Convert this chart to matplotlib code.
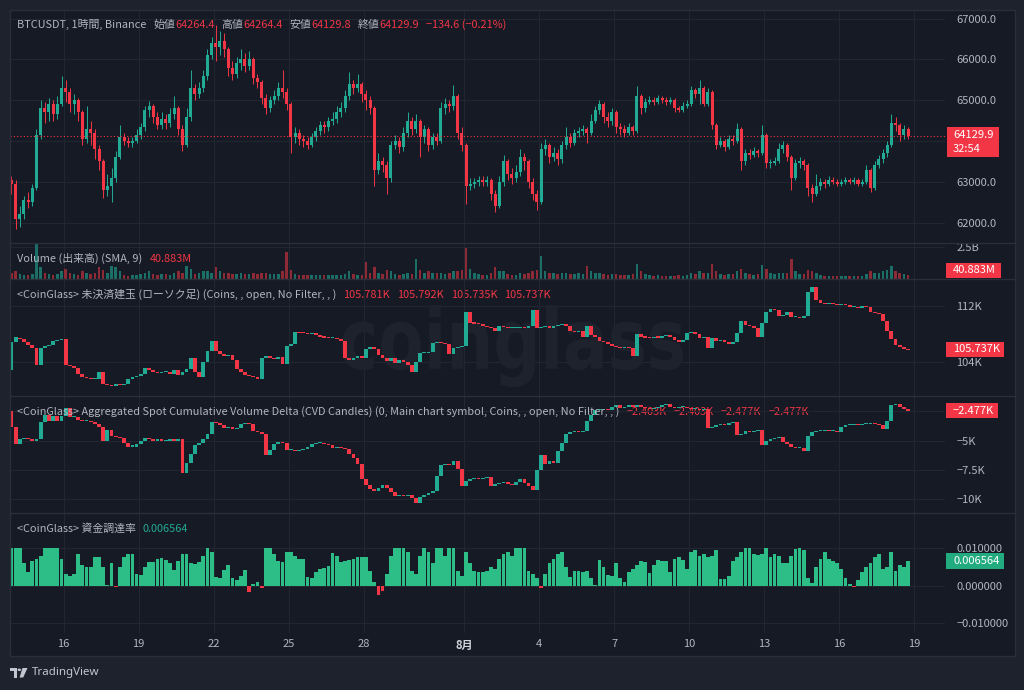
import numpy as np
import pandas as pd
import matplotlib
matplotlib.use('Agg')
import matplotlib.pyplot as plt
import matplotlib.dates as mdates
from matplotlib.patches import Rectangle, PathPatch, Circle, Polygon
from matplotlib.lines import Line2D
from matplotlib.textpath import TextPath
from matplotlib.font_manager import FontProperties
from matplotlib.transforms import Affine2D, IdentityTransform

plt.rcParams['font.family'] = ['Noto Sans CJK JP', 'DejaVu Sans']

# ---------------- data (4-hour sampling) ----------------
START = '2024-07-13 20:00'
FREQ = '4h'

price_open0 = 63050
price_close = [
    62950,
    62100, 62200, 62550, 62500, 62850, 64150,  # Jul 14
    64800, 64700, 64900, 64650, 64900, 65300,  # 15
    65200, 64900, 65000, 64700, 64050, 64300,  # 16
    64200, 63800, 63500, 62800, 62900, 63100,  # 17
    63600, 64100, 64000, 63950, 64000, 64150,  # 18
    64350, 64750, 64850, 64600, 64400, 64550,  # 19
    64450, 64650, 64800, 64300, 63900, 64600,  # 20
    65300, 65150, 65300, 65600, 66100, 66400,  # 21
    66300, 66450, 66250, 65800, 65650, 65900,  # 22
    66000, 65850, 66000, 65550, 65450, 65050,  # 23
    64800, 65000, 65100, 65300, 65200, 64900,  # 24
    64100, 64200, 64050, 64000, 63900, 64100,  # 25
    64250, 64400, 64350, 64500, 64550, 64700,  # 26
    64800, 65100, 65400, 65300, 65400, 65150,  # 27
    65000, 64800, 63300, 63500, 63400, 63100,  # 28
    63900, 64000, 63850, 64200, 64500, 64300,  # 29
    64500, 64100, 64300, 63900, 64100, 64000,  # 30
    64800, 64900, 64850, 65100, 64200, 63900,  # 31
    62900, 62950, 63000, 63050, 63000, 63050,  # Aug 1
    62700, 62400, 63000, 63500, 63200, 63100,  # 2
    63250, 63600, 63500, 63000, 62700, 62500,  # 3
    63800, 63900, 63600, 63700, 63550, 63900,  # 4
    64100, 63950, 64200, 64250, 64300, 64200,  # 5
    64500, 64750, 64900, 64600, 64500, 64700,  # 6
    64350, 64300, 64200, 64350, 64250, 65100,  # 7
    64800, 64950, 65000, 64950, 65050, 65000,  # 8
    64950, 65000, 64800, 64750, 64850, 64900,  # 9
    65250, 65150, 65300, 64900, 65200, 64400,  # 10
    63900, 64000, 63850, 64050, 64000, 64300,  # 11
    63500, 63700, 63650, 63750, 63700, 64150,  # 12
    63450, 63450, 63500, 63800, 63900, 63600,  # 13
    63100, 63450, 63500, 63400, 62850, 62700,  # 14
    62900, 63000, 62950, 63050, 63000, 62950,  # 15
    63000, 63050, 63000, 63050, 62950, 63000,  # 16
    63300, 62850, 63400, 63550, 63700, 63900,  # 17
    64450, 64400, 64150, 64300, 64129.9,       # 18
]
price_high = [
    63150,
    63050, 62400, 62650, 62750, 62950, 64300,
    65000, 64950, 65050, 65000, 65100, 65600,
    65500, 65300, 65150, 65050, 64750, 64850,
    64500, 64300, 63900, 63550, 63200, 63350,
    63750, 64400, 64200, 64100, 64100, 64300,
    64450, 64850, 64980, 64900, 64700, 64700,
    64650, 64800, 65100, 64850, 64400, 64800,
    65750, 65400, 65450, 65750, 66250, 66550,
    66850, 66700, 66650, 66300, 65950, 66050,
    66250, 66150, 66200, 66050, 65650, 65500,
    65150, 65100, 65250, 65450, 65750, 65300,
    64950, 64350, 64300, 64150, 64100, 64200,
    64350, 64500, 64500, 64600, 64700, 64850,
    64950, 65250, 65700, 65500, 65650, 65450,
    65250, 65100, 64850, 63700, 63600, 63500,
    64000, 64150, 64100, 64350, 64700, 64600,
    64650, 64550, 64400, 64350, 64200, 64200,
    64950, 65050, 65000, 65370, 65150, 64350,
    63950, 63100, 63100, 63150, 63150, 63150,
    63100, 62800, 63150, 63650, 63550, 63350,
    63400, 63800, 63700, 63550, 63100, 62800,
    63950, 64050, 63950, 63850, 63800, 64000,
    64350, 64200, 64300, 64350, 64400, 64350,
    64650, 64850, 65000, 64950, 64700, 64800,
    64750, 64450, 64400, 64450, 64400, 65350,
    65150, 65050, 65100, 65080, 65120, 65100,
    65080, 65080, 65050, 64850, 64950, 65000,
    65350, 65300, 65500, 65350, 65300, 65250,
    64450, 64100, 64050, 64150, 64150, 64450,
    64350, 63800, 63800, 63850, 63800, 64400,
    64200, 63550, 63600, 63950, 64000, 63950,
    63650, 63550, 63600, 63550, 63450, 62950,
    63200, 63100, 63080, 63150, 63120, 63080,
    63080, 63120, 63100, 63120, 63100, 63080,
    63400, 63350, 63500, 63650, 63800, 64000,
    64650, 64600, 64450, 64400, 64350,
]
price_low = [
    62700,
    61850, 61900, 62100, 62350, 62400, 62800,
    64050, 64450, 64500, 64500, 64550, 64850,
    64950, 64700, 64650, 64500, 63900, 63950,
    63900, 63550, 63300, 62600, 62650, 62500,
    63000, 63550, 63900, 63850, 63850, 63950,
    64050, 64250, 64600, 64450, 64300, 64300,
    64300, 64350, 64550, 64150, 63750, 63850,
    64500, 65000, 65050, 65200, 65500, 66000,
    65950, 66100, 66050, 65600, 65500, 65550,
    65750, 65700, 65750, 65400, 65300, 64900,
    64650, 64700, 64900, 65000, 65050, 64750,
    63700, 63950, 63900, 63850, 63800, 63850,
    64000, 64150, 64200, 64250, 64400, 64450,
    64600, 64700, 65000, 65150, 65200, 64950,
    64750, 64650, 62900, 63200, 63250, 62700,
    63000, 63800, 63700, 63750, 64100, 64150,
    64200, 63600, 63950, 63750, 63800, 63900,
    63950, 64650, 64700, 64750, 64050, 63750,
    62450, 62800, 62850, 62900, 62900, 62900,
    62550, 62250, 62350, 62900, 63050, 62950,
    63000, 63150, 63300, 62850, 62550, 62300,
    62450, 63650, 63450, 63500, 63400, 63450,
    63800, 63850, 63900, 64100, 64150, 63950,
    64150, 64450, 64650, 64450, 64350, 64400,
    64200, 64150, 64100, 64150, 64150, 64200,
    64650, 64700, 64900, 64880, 64900, 64930,
    64880, 64900, 64720, 64700, 64700, 64800,
    64850, 65050, 64900, 64850, 64850, 64300,
    63800, 63850, 63750, 63800, 63900, 63950,
    63300, 63400, 63550, 63600, 63600, 63650,
    63350, 63350, 63400, 63450, 63700, 63500,
    62800, 63050, 63350, 63300, 62650, 62500,
    62650, 62800, 62850, 62900, 62950, 62900,
    62900, 62950, 62950, 62950, 62900, 62900,
    62950, 62750, 62800, 63350, 63450, 63600,
    63850, 64250, 64000, 64050, 64050,
]
# volume in billions USDT
volume = [
    0.5,
    0.6, 0.4, 0.35, 0.3, 0.4, 2.75,
    0.9, 0.5, 0.4, 0.35, 0.4, 0.6,
    0.8, 0.5, 0.4, 0.35, 0.6, 0.5,
    0.4, 0.5, 0.9, 0.7, 0.5, 1.0,
    0.9, 0.6, 0.3, 0.25, 0.3, 0.35,
    0.4, 0.5, 0.6, 0.4, 0.35, 0.4,
    0.4, 0.35, 0.5, 0.6, 0.5, 1.0,
    0.8, 0.4, 0.5, 0.6, 0.6, 0.5,
    0.9, 0.6, 0.5, 0.5, 0.4, 0.4,
    0.5, 0.4, 0.4, 0.5, 0.4, 0.5,
    0.5, 0.4, 0.4, 0.4, 0.6, 2.1,
    0.7, 0.4, 0.3, 0.3, 0.3, 0.3,
    0.3, 0.3, 0.3, 0.35, 0.3, 0.3,
    0.35, 0.4, 0.6, 0.4, 0.35, 0.3,
    1.3, 0.5, 0.9, 0.5, 0.4, 0.7,
    0.6, 0.4, 0.35, 0.4, 0.5, 0.4,
    1.6, 0.7, 0.5, 0.6, 0.5, 0.5,
    0.5, 0.4, 0.5, 0.6, 0.6, 0.7,
    2.4, 0.8, 0.5, 0.4, 0.35, 0.3,
    0.5, 0.9, 0.6, 0.6, 0.4, 0.35,
    0.35, 0.5, 0.4, 0.5, 0.6, 0.7,
    1.8, 0.6, 0.5, 0.5, 0.4, 0.5,
    0.5, 0.4, 0.4, 0.5, 0.4, 1.0,
    0.6, 0.5, 0.5, 0.4, 0.35, 0.4,
    0.4, 0.3, 0.3, 0.35, 0.4, 1.2,
    0.6, 0.4, 0.3, 0.25, 0.3, 0.25,
    0.25, 0.2, 0.25, 0.3, 0.25, 0.3,
    0.5, 0.4, 0.6, 0.5, 0.5, 1.15,
    0.6, 0.4, 0.35, 0.4, 0.4, 0.6,
    0.8, 0.5, 0.4, 0.35, 0.4, 1.1,
    0.8, 0.5, 0.4, 0.5, 0.5, 0.5,
    1.6, 0.6, 0.4, 0.4, 0.7, 0.6,
    0.5, 0.3, 0.25, 0.25, 0.2, 0.2,
    0.2, 0.2, 0.2, 0.2, 0.2, 0.25,
    0.4, 0.6, 0.5, 0.5, 0.6, 0.7,
    1.0, 0.6, 0.5, 0.4, 0.3,
]
# open interest (K coins)
oi_open0 = 102.9
oi_close = [
    106.8,
    107.5, 107.3, 106.8, 106.4, 106.0, 103.5,
    106.0, 106.3, 106.4, 107.0, 107.2, 107.3,
    103.6, 103.4, 103.2, 102.3, 101.8, 101.7,
    101.5, 101.6, 102.6, 100.9, 100.7, 100.6,
    100.8, 100.7, 100.9, 101.5, 101.9, 102.0,
    102.3, 103.2, 102.8, 102.6, 102.4, 102.5,
    102.6, 102.3, 102.8, 102.2, 102.6, 103.0,
    104.6, 102.5, 101.8, 104.0, 105.6, 107.0,
    105.6, 105.2, 104.9, 105.0, 104.3, 103.0,
    102.5, 102.2, 102.0, 101.8, 101.6, 104.6,
    104.8, 104.6, 104.4, 104.7, 103.7, 106.3,
    106.5, 108.3, 108.2, 108.1, 108.0, 108.1,
    107.9, 107.6, 107.5, 107.4, 107.5, 107.3,
    107.0, 104.5, 104.3, 104.6, 104.8, 104.6,
    105.8, 106.2, 105.9, 105.0, 104.6, 104.2,
    104.5, 103.8, 104.3, 104.0, 103.5, 102.5,
    104.0, 105.3, 105.3, 105.4, 106.7, 106.8,
    106.7, 106.6, 105.2, 106.0, 106.1, 106.3,
    111.2, 109.6, 109.5, 109.4, 109.1, 109.0,
    108.9, 108.4, 109.2, 109.0, 108.9, 108.9,
    108.9, 109.0, 108.8, 109.2, 111.5, 108.9,
    109.0, 109.2, 108.8, 109.1, 109.3, 109.4,
    109.2, 108.4, 108.3, 108.4, 107.6, 109.1,
    107.8, 107.6, 107.0, 106.8, 106.6, 106.3,
    106.1, 106.0, 106.1, 106.0, 104.8, 108.0,
    107.6, 107.5, 107.4, 107.6, 107.5, 107.7,
    107.8, 107.6, 107.2, 106.9, 107.1, 108.2,
    108.3, 108.0, 107.4, 107.6, 106.0, 107.4,
    107.0, 107.1, 106.8, 106.5, 106.8, 108.2,
    109.9, 109.3, 109.1, 108.8, 107.6, 109.6,
    111.2, 111.6, 111.4, 110.6, 110.7, 111.2,
    110.4, 110.5, 110.3, 110.6, 114.0, 114.7,
    112.9, 112.5, 112.3, 112.4, 112.3, 112.2,
    112.3, 112.2, 111.8, 111.9, 111.7, 112.0,
    111.9, 111.1, 111.0, 110.8, 109.8, 108.5,
    107.3, 106.4, 106.1, 105.9, 105.737,
]
# aggregated spot CVD (K coins)
cvd_open0 = -2.5
cvd_close = [
    -3.8,
    -5.3, -4.9, -4.8, -4.9, -5.0, -4.9,
    -3.4, -2.8, -3.3, -2.9, -3.3, -2.9,
    -2.2, -3.0, -3.0, -3.2, -3.3, -3.3,
    -3.4, -3.6, -3.8, -5.0, -4.1, -4.6,
    -4.7, -4.8, -5.2, -5.5, -5.5, -5.3,
    -5.0, -4.8, -4.9, -5.0, -4.9, -5.0,
    -5.0, -4.9, -5.0, -4.9, -7.8, -6.9,
    -6.1, -5.4, -5.2, -4.9, -4.4, -3.4,
    -3.5, -3.7, -3.9, -3.8, -4.0, -3.9,
    -3.6, -3.5, -3.6, -4.2, -4.3, -4.4,
    -6.2, -5.8, -5.3, -5.1, -5.2, -5.8,
    -5.8, -5.9, -5.8, -5.7, -5.5, -5.3,
    -5.2, -5.2, -5.3, -5.4, -5.6, -5.5,
    -5.6, -5.7, -6.1, -6.5, -7.0, -8.3,
    -8.8, -9.1, -9.3, -9.0, -8.8, -9.0,
    -9.4, -9.7, -9.6, -9.7, -9.6, -9.9,
    -10.3, -9.8, -9.6, -9.5, -9.3, -8.0,
    -7.1, -7.0, -7.1, -6.7, -7.4, -8.9,
    -8.4, -8.3, -8.2, -8.3, -8.2, -8.1,
    -8.9, -8.7, -8.6, -8.5, -8.7, -8.8,
    -8.5, -8.3, -8.6, -8.9, -9.2, -7.5,
    -6.2, -7.0, -6.7, -6.9, -5.9, -5.2,
    -4.4, -4.3, -4.2, -4.3, -4.2, -3.3,
    -2.8, -2.4, -2.4, -2.3, -2.4, -2.1,
    -2.0, -2.2, -2.1, -2.0, -2.1, -2.0,
    -2.1, -2.2, -2.3, -2.2, -2.1, -2.0,
    -1.9, -2.1, -2.2, -2.1, -2.1, -2.2,
    -2.3, -2.3, -2.4, -2.3, -3.9, -3.8,
    -3.7, -3.6, -3.7, -3.5, -3.4, -4.5,
    -4.4, -4.2, -4.3, -4.2, -4.1, -5.4,
    -5.0, -4.9, -4.8, -4.7, -5.1, -5.3,
    -5.5, -5.6, -5.6, -5.9, -4.6, -4.3,
    -4.2, -4.2, -4.1, -4.2, -4.2, -4.3,
    -3.8, -3.7, -3.7, -3.6, -3.7, -3.6,
    -3.6, -3.5, -3.6, -3.7, -4.0, -3.3,
    -2.0, -1.9, -2.1, -2.3, -2.477,
]
# funding rate (%)
funding = [
    0.0100,
    0.0100, 0.0100, 0.0060, 0.0035, 0.0065, 0.0070,
    0.0080, 0.0100, 0.0100, 0.0100, 0.0100, 0.0070,
    0.0030, 0.0026, 0.0030, 0.0085, 0.0055, 0.0050,
    0.0050, 0.0075, 0.0075, 0.0050, 0.0002, 0.0060,
    -0.0003, 0.0050, 0.0075, 0.0085, 0.0085, 0.0030,
    0.0028, 0.0050, 0.0064, 0.0064, 0.0070, 0.0073,
    0.0068, 0.0060, 0.0042, 0.0065, 0.0085, 0.0083,
    0.0060, 0.0058, 0.0062, 0.0080, 0.0100, 0.0090,
    0.0022, 0.0020, 0.0042, 0.0055, 0.0020, 0.0015,
    0.0025, 0.0042, -0.0016, 0.0005, 0.0010, -0.0007,
    0.0100, 0.0100, 0.0085, 0.0065, 0.0062, 0.0090,
    0.0090, 0.0080, 0.0070, 0.0072, 0.0022, 0.0020,
    0.0035, 0.0043, 0.0048, 0.0053, 0.0086, 0.0080,
    0.0062, 0.0065, 0.0068, 0.0070, 0.0077, 0.0075,
    0.0075, 0.0040, 0.0010, -0.0025, -0.0015, 0.0030,
    0.0080, 0.0100, 0.0100, 0.0100, 0.0090, 0.0040,
    0.0030, 0.0080, 0.0100, 0.0090, 0.0060, 0.0100,
    0.0100, 0.0080, 0.0100, 0.0100, 0.0040, 0.0025,
    0.0090, 0.0060, 0.0040, 0.0035, 0.0035, 0.0040,
    0.0050, 0.0045, 0.0070, 0.0085, 0.0090, 0.0080,
    0.0100, 0.0100, 0.0100, 0.0040, 0.0030, 0.0020,
    -0.0007, 0.0030, 0.0060, 0.0070, 0.0085, 0.0090,
    0.0050, 0.0024, 0.0040, 0.0040, 0.0035, 0.0040,
    0.0020, 0.0003, 0.0068, 0.0050, 0.0028, 0.0025,
    0.0060, 0.0020, 0.0010, 0.0035, 0.0045, 0.0055,
    0.0066, 0.0062, 0.0033, 0.0055, 0.0068, 0.0066,
    0.0066, 0.0037, 0.0070, 0.0076, 0.0068, 0.0045,
    0.0090, 0.0095, 0.0080, 0.0085, 0.0075, 0.0080,
    0.0095, 0.0018, 0.0017, 0.0025, 0.0065, 0.0075,
    0.0090, 0.0100, 0.0100, 0.0083, 0.0081, 0.0085,
    0.0100, 0.0075, 0.0085, 0.0080, 0.0060, 0.0060,
    0.0080, 0.0097, 0.0100, 0.0095, 0.0020, 0.0008,
    0.0050, 0.0070, 0.0090, 0.0070, 0.0065, 0.0060,
    0.0045, 0.0020, 0.0005, -0.0003, 0.0015, 0.0035,
    0.0050, 0.0060, 0.0075, 0.0085, 0.0045, 0.0050,
    0.0090, 0.0040, 0.0055, 0.0050, 0.006564,
]
tick_dates = ['2024-07-16', '2024-07-19', '2024-07-22', '2024-07-25', '2024-07-28',
              '2024-08-01', '2024-08-04', '2024-08-07', '2024-08-10', '2024-08-13',
              '2024-08-16', '2024-08-19']
tick_labels = ['16', '19', '22', '25', '28', '8月', '4', '7', '10', '13', '16', '19']
price_ticks = [62000, 63000, 65000, 66000, 67000]
price_grid = [62000, 63000, 64000, 65000, 66000, 67000]
oi_ticks = [104, 112]
cvd_ticks = [-5, -7.5, -10]
cvd_grid = [-2.5, -5, -7.5, -10]
fund_ticks = [0.01, 0.0, -0.01]
last_price = 64129.9
countdown = '32:54'
legend_price = [('始値', '64264.4'), ('高値', '64264.4'), ('安値', '64129.8'), ('終値', '64129.9')]
price_change = '−134.6 (−0.21%)'
vol_last = '40.883M'
oi_vals = ['105.781K', '105.792K', '105.735K', '105.737K']
cvd_vals = ['−2.403K', '−2.403K', '−2.477K', '−2.477K']
fund_last = '0.006564'

# ---------------- styling ----------------
W, H = 1024, 690
BG = '#161a25'
OUTER = '#1e222d'
GRID = '#222631'
SEP = '#2a2e39'
TXT = '#b2b5be'
UP = '#22ab94'
DN = '#f23645'
FGREEN = '#2dbd86'
FBOX = '#22ab7e'
FS_LEG = 7.85
FS_TICK = 8.0

n = len(price_close)
times = pd.date_range(START, periods=n, freq=FREQ)
t = mdates.date2num(times) + 2.0 / 24.0
x0 = mdates.date2num(pd.Timestamp('2024-07-13 20:36'))
x1 = mdates.date2num(pd.Timestamp('2024-08-20 05:27'))
tick_nums = mdates.date2num(pd.to_datetime(tick_dates))

pc = np.array(price_close, float)
po = np.concatenate([[price_open0], pc[:-1]])
ph = np.array(price_high, float)
pl = np.array(price_low, float)
oc = np.array(oi_close, float)
oo = np.concatenate([[oi_open0], oc[:-1]])
cc = np.array(cvd_close, float)
co = np.concatenate([[cvd_open0], cc[:-1]])
fr = np.array(funding, float)
vol = np.array(volume, float)

fig = plt.figure(figsize=(W / 100, H / 100), dpi=100, facecolor=OUTER)
fig.patches.append(Rectangle((10 / W, 1 - 656 / H), 1005 / W, 646 / H, transform=fig.transFigure,
                             fc=BG, ec='none', zorder=-5))


def pane(top, bottom):
    ax = fig.add_axes([10 / W, 1 - bottom / H, 935 / W, (bottom - top) / H])
    ax.set_facecolor('none')
    for s in ax.spines.values():
        s.set_visible(False)
    ax.set_xlim(x0, x1)
    ax.set_xticks(tick_nums)
    ax.tick_params(axis='x', length=0, labelbottom=False)
    ax.yaxis.tick_right()
    ax.tick_params(axis='y', length=0, pad=8, labelcolor=TXT, labelsize=FS_TICK)
    for xv in tick_nums:
        ax.axvline(xv, color=GRID, lw=0.75, zorder=0)
    return ax


def draw_candles(ax, o, h, l, c, width, minh, wick=True):
    up = c >= o
    cols = np.where(up, UP, DN)
    lo = np.minimum(o, c)
    hh = np.maximum(np.abs(c - o), minh)
    if wick:
        ax.vlines(t, l, h, colors=cols, lw=0.7, zorder=2)
    ax.bar(t, hh, bottom=lo, width=width, color=cols, linewidth=0, zorder=3)


# price pane
axp = pane(10, 243)
axp.set_ylim(61500, 67211)
for g in price_grid:
    axp.axhline(g, color=GRID, lw=0.75, zorder=0)
axp.set_yticks(price_ticks)
axp.set_yticklabels([f'{v:.1f}' for v in price_ticks])
draw_candles(axp, po, ph, pl, pc, 0.12, 25)
axp.axhline(last_price, color=DN, lw=0.8, ls=(0, (1, 2)), zorder=4)

# volume pane
axv = pane(243, 279)
axv.set_ylim(0, 2.81)
axv.axhline(2.5, color=GRID, lw=0.75, zorder=0)
axv.set_yticks([2.5])
axv.set_yticklabels(['2.5B'])
vcols = np.where(pc >= po, '#1b6f66', '#8d2a35')
axv.bar(t, vol, width=0.1, color=vcols, linewidth=0, zorder=2)

# open interest pane
axo = pane(279, 396)
axo.set_ylim(99.14, 115.86)
for g in oi_ticks:
    axo.axhline(g, color=GRID, lw=0.75, zorder=0)
axo.set_yticks(oi_ticks)
axo.set_yticklabels([f'{v}K' for v in oi_ticks])
draw_candles(axo, oo, None, None, oc, 0.15, 0.15, wick=False)
# watermark
tp = TextPath((0, 0), 'coinglass', size=100, prop=FontProperties(family='DejaVu Sans', weight='bold'))
ext = tp.get_extents()
tr = Affine2D().translate(-ext.x0, -ext.y0).scale(341 / ext.width, 82 / ext.height).translate(342, H - 387)
axo.add_patch(PathPatch(tr.transform_path(tp), transform=IdentityTransform(), fc='#1e222d', ec='none', zorder=1))

# CVD pane
axc = pane(396, 513)
axc.set_ylim(-11.17, -1.19)
for g in cvd_grid:
    axc.axhline(g, color=GRID, lw=0.75, zorder=0)
axc.set_yticks(cvd_ticks)
axc.set_yticklabels(['−5K', '−7.5K', '−10K'])
draw_candles(axc, co, None, None, cc, 0.15, 0.09, wick=False)

# funding pane
axf = pane(513, 633)
axf.set_ylim(-0.01255, 0.01928)
for g in fund_ticks:
    axf.axhline(g, color=GRID, lw=0.75, zorder=0)
axf.set_yticks(fund_ticks)
axf.set_yticklabels(['0.010000', '0.000000', '−0.010000'])
axf.bar(t, fr, width=0.15, color=np.where(fr >= 0, FGREEN, DN), linewidth=0, zorder=2)
axf.tick_params(axis='x', labelbottom=True, pad=4, labelcolor=TXT, labelsize=FS_TICK)
axf.set_xticklabels(tick_labels)
for lab in axf.get_xticklabels():
    if lab.get_text() == '8月':
        lab.set_fontweight('bold')
        lab.set_color('#d1d4dc')

# separators and frame
for yy in (243, 279, 396, 513):
    fig.add_artist(Line2D([10 / W, 1015 / W], [1 - yy / H] * 2, transform=fig.transFigure, color=SEP, lw=1.0, zorder=4))
fig.add_artist(Rectangle((10 / W, 1 - 656 / H), 1005 / W, 646 / H, transform=fig.transFigure,
                         fill=False, ec=SEP, lw=1.0, zorder=4))


# legends
def legend(x, y, parts):
    txt = fig.text(x / W, 1 - y / H, parts[0][0], color=parts[0][1], fontsize=FS_LEG, va='center', ha='left', zorder=6)
    for s, col, gap in parts[1:]:
        txt = axp.annotate(s, xy=(1, 0), xycoords=txt, xytext=(gap * 0.72, 0), textcoords='offset points',
                           va='bottom', ha='left', color=col, fontsize=FS_LEG, annotation_clip=False, zorder=6)


parts = [('BTCUSDT, 1時間, Binance', TXT)]
for lab, val in legend_price:
    parts.append((lab, TXT, 7))
    parts.append((val, DN, 0))
parts.append((price_change, DN, 7))
legend(17, 24, parts)
legend(17, 258, [('Volume (出来高) (SMA, 9)', TXT), (vol_last, DN, 7)])
legend(17, 294.5, [('<CoinGlass> 未決済建玉 (ローソク足) (Coins, , open, No Filter, , )', TXT)]
       + [(v, DN, 7) for v in oi_vals])
legend(17, 411.5, [('<CoinGlass> Aggregated Spot Cumulative Volume Delta (CVD Candles) (0, Main chart symbol, Coins, , open, No Filter, , )', TXT)]
       + [(v, DN, 7) for v in cvd_vals])
legend(17, 528.5, [('<CoinGlass> 資金調達率', TXT), (fund_last, UP, 7)])


# right-scale value boxes
def box(xa, xb, ya, yb, color, lines):
    fig.add_artist(Rectangle((xa / W, 1 - yb / H), (xb - xa) / W, (yb - ya) / H, transform=fig.transFigure,
                             fc=color, ec='none', zorder=7))
    k = len(lines)
    for i, s in enumerate(lines):
        yc = ya + (yb - ya) * (i + 0.5) / k
        fig.text(953 / W, 1 - yc / H, s, color='white', fontsize=FS_TICK, va='center', ha='left', zorder=8)


box(946.5, 999, 127, 157, DN, [f'{last_price:.1f}', countdown])
box(946, 1001, 263, 278, DN, [vol_last])
box(946, 1004, 342, 357, DN, [oi_vals[-1]])
box(946, 998, 403, 418, DN, [cvd_vals[-1]])
box(946, 1004, 553, 569, FBOX, [fund_last])


# TradingView logo
def P(x, y):
    return (x / W, 1 - y / H)


logo_col = '#c3c6ce'
fig.add_artist(Polygon([P(9.5, 668), P(17, 668), P(17, 677.5), P(13.8, 677.5), P(13.8, 671.2), P(9.5, 671.2)],
                       closed=True, transform=fig.transFigure, fc=logo_col, ec='none'))
fig.add_artist(Circle(P(19.3, 669.8), 1.8 / W, transform=fig.transFigure, fc=logo_col, ec='none'))
fig.add_artist(Polygon([P(22.5, 668), P(27.5, 668), P(23.2, 677.5), P(19.6, 677.5)],
                       closed=True, transform=fig.transFigure, fc=logo_col, ec='none'))
fig.text(31.5 / W, 1 - 673 / H, 'TradingView', color=logo_col, fontsize=8.3, va='center', ha='left',
         fontweight='bold', family=['Noto Sans', 'DejaVu Sans'])

fig.savefig('out.png', dpi=100, facecolor=OUTER)
